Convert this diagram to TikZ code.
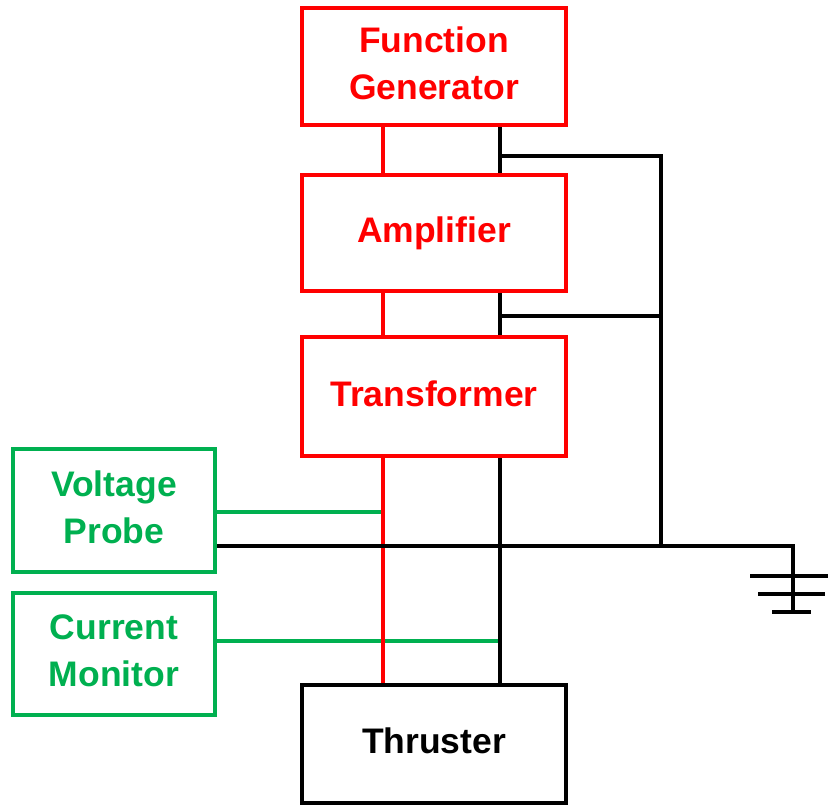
\documentclass[tikz,border=0pt]{standalone}
\usepackage{fontspec}
\setmainfont{Liberation Sans}
\usetikzlibrary{calc,backgrounds}
\definecolor{SigRed}{HTML}{FF0000}
\definecolor{ProbeGreen}{HTML}{00B050}
\tikzset{
  unit/.style={draw,line width=4pt,outer sep=0pt,inner sep=0pt,fill=white,align=center,text depth=6pt,minimum width=264pt,minimum height=118pt,font=\bfseries\fontsize{35.5}{47}\selectfont},
  redunit/.style={unit,draw=SigRed,text=SigRed},
  greenunit/.style={unit,draw=ProbeGreen,text=ProbeGreen,minimum width=202pt,minimum height=122pt},
  blackunit/.style={unit,draw=black,text=black},
  redwire/.style={line width=4pt,draw=SigRed},
  greenwire/.style={line width=4pt,draw=ProbeGreen},
  gndwire/.style={line width=4pt,draw=black}
}
\begin{document}
\begin{tikzpicture}[x=1pt,y=-1pt]
  \useasboundingbox (0,0) rectangle (828,807);
  % units
  \node[redunit,minimum height=117pt] (fg) at (434,66.5) {Function\\Generator};
  \node[redunit,minimum height=116pt] (amp) at (434,233) {Amplifier};
  \node[redunit,minimum height=119pt] (xfmr) at (434,396.5) {Transformer};
  \node[blackunit] (thr) at (434,744) {Thruster};
  \node[greenunit,minimum height=123pt] (vprobe) at (114,510.5) {Voltage\\Probe};
  \node[greenunit] (cmon) at (114,654) {Current\\Monitor};
  % wire columns and ground
  \coordinate (sig) at (383,0);
  \coordinate (ret) at (499.5,0);
  \coordinate (bus) at (661,0);
  \coordinate (gnd) at (793,546);
  \coordinate (gndend) at (793,612);
  \begin{scope}[on background layer]
    \draw[greenwire] (vprobe.east |- 0,512) -- (sig |- 0,512);
    \draw[greenwire] (cmon.east |- 0,641) -- (ret |- 0,641);
    \draw[redwire] (fg.south -| sig) -- (amp.north -| sig);
    \draw[redwire] (amp.south -| sig) -- (xfmr.north -| sig);
    \draw[redwire] (xfmr.south -| sig) -- (thr.north -| sig);
    \draw[gndwire] (fg.south -| ret) -- (amp.north -| ret);
    \draw[gndwire] (amp.south -| ret) -- (xfmr.north -| ret);
    \draw[gndwire] (xfmr.south -| ret) -- (thr.north -| ret);
    \draw[gndwire] (ret |- 0,156) -- (bus |- 0,156) -- (bus |- gnd);
    \draw[gndwire] (ret |- 0,316) -- (bus |- 0,316);
    \draw[gndwire] (vprobe.east |- gnd) -- (gnd) -- (gndend);
  \end{scope}
  \draw[gndwire] (750,576) -- (828,576);
  \draw[gndwire] (758,594) -- (825,594);
  \draw[gndwire] (772,612) -- (811,612);
\end{tikzpicture}
\end{document}
